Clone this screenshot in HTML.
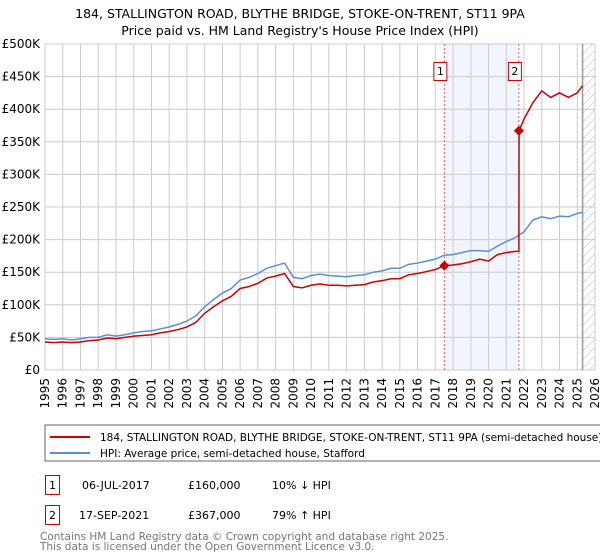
<!DOCTYPE html>
<html><head><meta charset="utf-8"><style>
body{margin:0;width:600px;height:560px;background:#fff;font-family:"DejaVu Sans","Liberation Sans",sans-serif;overflow:hidden;position:relative}
svg{position:absolute;left:0;top:0;font-family:"DejaVu Sans","Liberation Sans",sans-serif}
</style></head><body>
<svg width="600" height="560">
<text x="300" y="18" text-anchor="middle" font-size="12.5" fill="#000">184, STALLINGTON ROAD, BLYTHE BRIDGE, STOKE-ON-TRENT, ST11 9PA</text>
<text x="300" y="35" text-anchor="middle" font-size="12.5" fill="#000">Price paid vs. HM Land Registry's House Price Index (HPI)</text>
<defs><pattern id="hatch" width="6" height="6" patternUnits="userSpaceOnUse" patternTransform="rotate(45)"><line x1="0" y1="0" x2="0" y2="6" stroke="#bbb" stroke-width="1"/></pattern></defs>
<g id="grid"></g>
<g id="marks"></g>
<rect x="45" y="425" width="560" height="36" fill="#fff" stroke="#666"/>
<line x1="50" y1="437" x2="90" y2="437" stroke="#cc0000" stroke-width="2"/>
<text x="100" y="441" font-size="10.5">184, STALLINGTON ROAD, BLYTHE BRIDGE, STOKE-ON-TRENT, ST11 9PA (semi-detached house)</text>
<line x1="50" y1="453" x2="90" y2="453" stroke="#5b8fd4" stroke-width="2"/>
<text x="100" y="457" font-size="10.5">HPI: Average price, semi-detached house, Stafford</text>
<rect x="45.5" y="475.5" width="14" height="19" fill="#fff" stroke="#cc0000"/>
<text x="52.5" y="489" font-size="11" text-anchor="middle">1</text>
<text x="82" y="489" font-size="11">06-JUL-2017</text>
<text x="188" y="489" font-size="11">£160,000</text>
<text x="272" y="489" font-size="11">10% ↓ HPI</text>
<rect x="45.5" y="505.5" width="14" height="19" fill="#fff" stroke="#cc0000"/>
<text x="52.5" y="519" font-size="11" text-anchor="middle">2</text>
<text x="79" y="519" font-size="11">17-SEP-2021</text>
<text x="188" y="519" font-size="11">£367,000</text>
<text x="272" y="519" font-size="11">79% ↑ HPI</text>
<text x="40" y="540" font-size="10.5" fill="#777">Contains HM Land Registry data © Crown copyright and database right 2025.</text>
<text x="40" y="550" font-size="10.5" fill="#777">This data is licensed under the Open Government Licence v3.0.</text>
</svg>
<script>
const yearTicks=[1995,1996,1997,1998,1999,2000,2001,2002,2003,2004,2005,2006,2007,2008,2009,2010,2011,2012,2013,2014,2015,2016,2017,2018,2019,2020,2021,2022,2023,2024,2025,2026];
const priceTicks=[0,50,100,150,200,250,300,350,400,450,500];
const hpiYears=[1995,1995.5,1996,1996.5,1997,1997.5,1998,1998.5,1999,1999.5,2000,2000.5,2001,2001.5,2002,2002.5,2003,2003.5,2004,2004.5,2005,2005.5,2006,2006.5,2007,2007.5,2008,2008.5,2009,2009.5,2010,2010.5,2011,2011.5,2012,2012.5,2013,2013.5,2014,2014.5,2015,2015.5,2016,2016.5,2017,2017.5,2018,2018.5,2019,2019.5,2020,2020.5,2021,2021.5,2022,2022.5,2023,2023.5,2024,2024.5,2025,2025.3];
const hpiValues=[48,47,48,46,48,50,50,54,52,54,57,59,60,63,66,70,75,83,97,108,118,125,138,142,148,156,160,164,142,140,145,147,145,144,143,145,146,150,152,156,156,162,164,167,170,176,177,180,183,183,182,190,197,203,212,230,235,232,236,235,240,242];
const propYears=[1995,1995.5,1996,1996.5,1997,1997.5,1998,1998.5,1999,1999.5,2000,2000.5,2001,2001.5,2002,2002.5,2003,2003.5,2004,2004.5,2005,2005.5,2006,2006.5,2007,2007.5,2008,2008.5,2009,2009.5,2010,2010.5,2011,2011.5,2012,2012.5,2013,2013.5,2014,2014.5,2015,2015.5,2016,2016.5,2017,2017.51,2018,2018.5,2019,2019.5,2020,2020.5,2021,2021.5,2021.71,2021.72,2022,2022.5,2023,2023.5,2024,2024.5,2025,2025.3];
const propValues=[43,42,43,42,43,45,46,49,48,50,52,53,54,57,59,62,66,73,87,97,106,113,125,128,133,141,144,148,128,126,130,132,130,130,129,130,131,135,137,140,140,146,148,151,154,160,161,163,166,170,167,177,180,182,182,367,385,410,428,418,425,418,425,436];
const sales=[{label:"1",year:2017.51,value:160},{label:"2",year:2021.71,value:367}];
const ns="http://www.w3.org/2000/svg";
const X=y=>45+(y-1995)*(550/31), Y=v=>370-v*0.652;
function mk(tag,attrs,parent){const e=document.createElementNS(ns,tag);for(const k in attrs)e.setAttribute(k,attrs[k]);parent.appendChild(e);return e;}
const g=document.getElementById('grid'), m=document.getElementById('marks');
const shade=mk('rect',{x:X(sales[0].year),y:Y(500),width:X(sales[1].year)-X(sales[0].year),height:Y(0)-Y(500),fill:'#eef3fc',opacity:0.8},g);


yearTicks.forEach(t=>{
 const l=mk('line',{x1:X(t),x2:X(t),y1:Y(500),y2:Y(0),stroke:'#ccc'},g);
 
 
 const tx=mk('text',{x:0,y:0,'font-size':12,'text-anchor':'end',transform:`translate(${X(t)+4},378) rotate(-90)`},g);
 tx.textContent=t;
 
 
});
priceTicks.forEach(t=>{
 const l=mk('line',{x1:45,x2:595,y1:Y(t),y2:Y(t),stroke:'#ccc'},g);
 
 
 const tx=mk('text',{x:40,y:Y(t)+4,'font-size':12,'text-anchor':'end'},g);
 tx.textContent=t===0?'£0':'£'+t+'K';
 
 
});
const hx=X(2025.3);
const hr=mk('rect',{x:hx,y:Y(500),width:595-hx,height:Y(0)-Y(500),fill:'url(#hatch)'},g);


const hl=mk('line',{x1:hx,x2:hx,y1:Y(500),y2:Y(0),stroke:'#999','stroke-width':1.5},g);


sales.forEach(s=>{
 const l=mk('line',{x1:X(s.year),x2:X(s.year),y1:Y(500),y2:Y(0),stroke:'#e06666','stroke-dasharray':'2,2'},g);
 
 
});
const hp=mk('polyline',{points:hpiYears.map((y,i)=>X(y)+','+Y(hpiValues[i])).join(' '),fill:'none',stroke:'#5b8fd4','stroke-width':1.5},m);


const pp=mk('polyline',{points:propYears.map((y,i)=>X(y)+','+Y(propValues[i])).join(' '),fill:'none',stroke:'#cc0000','stroke-width':1.5},m);


sales.forEach(s=>{
 const cx=X(s.year),cy=Y(s.value);
 const d=mk('polygon',{points:`${cx},${cy-5} ${cx+5},${cy} ${cx},${cy+5} ${cx-5},${cy}`,fill:'#cc0000'},m);
 
 
 const b=mk('rect',{x:cx-10.5,y:62.5,width:13,height:18,fill:'#fff',stroke:'#cc0000'},m);
 
 
 const t=mk('text',{x:cx-4,y:75,'font-size':11,'text-anchor':'middle'},m);
 t.textContent=s.label;
 
 
});
</script>
</body></html>
